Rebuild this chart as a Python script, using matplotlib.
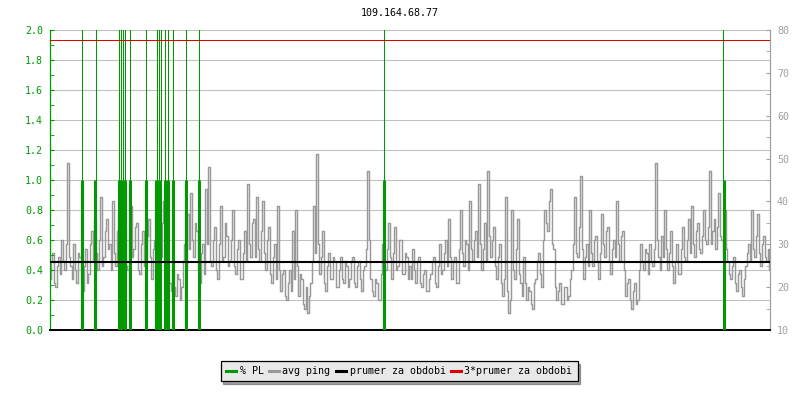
import matplotlib
matplotlib.use("Agg")
import matplotlib.pyplot as plt
import matplotlib.transforms as mtransforms
from matplotlib.ticker import MultipleLocator
import numpy as np

title = "109.164.68.77"
tick_labels = ["17:21", "19:22", "21:25", "23:26", "01:27", "03:28",
               "05:29", "07:30", "09:31", "11:33", "13:35", "15:36"]
tick_hours = [0, 2, 4, 6, 8, 10, 12, 14, 16, 18, 20, 22]
sample_step_h = 0.05  # one sample every 3 minutes, starting 17:21

ping_ms = [
    22, 26, 28, 21, 20, 25, 27, 23, 31, 26, 24, 30, 49, 27, 25, 22, 30, 24, 21, 28,
    27, 22, 19, 25, 29, 21, 23, 30, 33, 26, 36, 28, 24, 31, 41, 25, 27, 33, 36, 29,
    30, 24, 40, 28, 25, 33, 37, 26, 28, 35, 34, 25, 24, 31, 39, 27, 29, 34, 35, 24,
    23, 30, 33, 25, 26, 32, 36, 27, 22, 29, 31, 23, 38, 30, 27, 35, 40, 28, 24, 22,
    21, 19, 24, 20, 18, 23, 22, 17, 20, 26, 30, 24, 37, 29, 42, 31, 27, 35, 33, 24,
    21, 28, 30, 23, 43, 30, 48, 26, 25, 31, 34, 24, 22, 30, 39, 26, 27, 35, 32, 25,
    26, 31, 38, 25, 23, 29, 31, 22, 22, 28, 33, 26, 44, 30, 27, 35, 36, 27, 41, 29,
    26, 33, 40, 28, 24, 31, 34, 23, 21, 27, 30, 22, 39, 24, 19, 23, 24, 18, 17, 21,
    24, 19, 33, 22, 38, 25, 18, 23, 22, 16, 15, 20, 14, 18, 21, 26, 39, 28, 51, 30,
    23, 27, 33, 21, 19, 25, 28, 22, 22, 27, 26, 20, 20, 24, 27, 22, 21, 26, 25, 20,
    22, 26, 27, 21, 20, 25, 26, 22, 19, 24, 25, 29, 47, 31, 22, 19, 18, 22, 21, 17,
    17, 23, 30, 25, 24, 29, 35, 27, 22, 28, 34, 24, 25, 31, 31, 23, 23, 28, 27, 22,
    25, 22, 29, 24, 21, 26, 27, 21, 20, 23, 24, 19, 19, 22, 23, 26, 27, 21, 20, 25,
    30, 23, 24, 28, 31, 25, 36, 27, 22, 26, 27, 21, 21, 29, 38, 28, 25, 31, 30, 24,
    40, 29, 26, 31, 33, 27, 44, 30, 24, 29, 35, 26, 47, 32, 27, 31, 34, 25, 22, 27,
    30, 21, 18, 22, 41, 19, 14, 17, 38, 24, 22, 29, 36, 23, 21, 18, 27, 21, 17, 20,
    19, 16, 15, 21, 22, 26, 28, 23, 20, 31, 38, 35, 33, 40, 43, 30, 29, 20, 17, 19,
    21, 16, 16, 20, 20, 17, 18, 22, 24, 30, 41, 28, 27, 34, 46, 29, 22, 27, 30, 25,
    38, 28, 25, 31, 32, 26, 22, 28, 37, 30, 27, 33, 34, 26, 23, 29, 31, 27, 40, 30,
    26, 32, 33, 24, 18, 21, 22, 17, 15, 19, 21, 16, 17, 24, 30, 26, 24, 29, 28, 23,
    30, 26, 25, 29, 49, 31, 27, 24, 32, 27, 38, 29, 24, 28, 33, 25, 21, 26, 30, 23,
    23, 29, 34, 27, 26, 31, 36, 28, 39, 30, 27, 33, 35, 29, 28, 32, 38, 31, 30, 34,
    47, 30, 33, 36, 29, 34, 42, 32, 31, 27, 38, 29, 26, 23, 22, 25, 27, 21, 19, 23,
    24, 20, 18, 22, 25, 28, 30, 26, 38, 29, 27, 32, 37, 28, 25, 30, 32, 27, 26, 29,
    24,
]
ping_mean_ms = 25.9

# packet loss (%) events, hours after 17:21
pl_one_hours = [1.06, 1.51, 2.30, 2.38, 2.50, 2.67, 3.20, 3.53, 3.60, 3.67,
                3.83, 3.93, 4.09, 4.53, 4.96, 11.14, 22.47]
pl_one_values = [1.0] * len(pl_one_hours)
pl_high_hours = [1.06, 1.52, 2.29, 2.37, 2.42, 2.50, 2.68, 3.19, 3.56, 3.62,
                 3.69, 3.82, 3.92, 4.10, 4.52, 4.98, 11.12, 22.44]
pl_high_values = [3.0] * len(pl_high_hours)

GREEN = "#009a00"
GRAY = "#999999"
GRID = "#c0c0c0"
AXGRAY = "#a0a0a0"

plt.rcParams["font.family"] = ["DejaVu Sans Mono"]
plt.rcParams["font.size"] = 7

fig = plt.figure(figsize=(8, 4), dpi=100)
ax_ping = fig.add_axes([50 / 800, 70 / 400, 720 / 800, 300 / 400])
ax_pl = ax_ping.twinx()
ax_pl.patch.set_visible(False)

ping_t = np.arange(len(ping_ms)) * sample_step_h

ax_ping.set_xlim(0, 24)
ax_ping.set_ylim(10, 80)
ax_pl.set_ylim(0, 2.0)

# grid lines (left axis major ticks), behind the ping line
pl_major = np.round(np.arange(0, 2.01, 0.2), 1)
grid_tr = mtransforms.blended_transform_factory(ax_ping.transAxes, ax_pl.transData)
for g in pl_major:
    ax_ping.plot([0, 1], [g, g], color=GRID, lw=0.75, transform=grid_tr, zorder=1)

ax_ping.plot(ping_t, ping_ms, color=GRAY, lw=1.05, zorder=2, drawstyle="steps-mid")

# packet loss on top
ax_pl.vlines(pl_high_hours, 0, pl_high_values, color=GREEN, lw=0.75, zorder=2)
ax_pl.vlines(pl_one_hours, 0, pl_one_values, color=GREEN, lw=2.2, zorder=3)

line_tr = mtransforms.blended_transform_factory(ax_pl.transAxes, ax_ping.transData)
ax_pl.plot([0, 1], [ping_mean_ms, ping_mean_ms], color="black", lw=1.5,
           transform=line_tr, zorder=4)
ax_pl.plot([0, 1], [3 * ping_mean_ms, 3 * ping_mean_ms], color="#dd0000", lw=0.75,
           transform=line_tr, zorder=4)

# axes styling
for sp in ax_ping.spines.values():
    sp.set_visible(False)
ax_pl.spines["top"].set_visible(False)
ax_pl.spines["left"].set_color(GREEN)
ax_pl.spines["left"].set_linewidth(0.9)
ax_pl.spines["right"].set_color(AXGRAY)
ax_pl.spines["right"].set_linewidth(0.9)
ax_pl.spines["bottom"].set_color("black")
ax_pl.spines["bottom"].set_linewidth(1.4)

ax_pl.yaxis.tick_left()
ax_pl.yaxis.set_label_position("left")
ax_pl.set_yticks(pl_major)
ax_pl.set_yticklabels([f"{v:.1f}" for v in pl_major])
ax_pl.yaxis.set_minor_locator(MultipleLocator(0.1))
ax_pl.tick_params(axis="y", which="both", direction="in", colors=GREEN,
                  labelcolor=GREEN, labelsize=7.2)
ax_pl.tick_params(axis="y", which="major", length=3, pad=5)
ax_pl.tick_params(axis="y", which="minor", length=3)

ax_ping.yaxis.tick_right()
ax_ping.set_yticks(np.arange(10, 81, 10))
ax_ping.yaxis.set_minor_locator(MultipleLocator(5))
ax_ping.tick_params(axis="y", which="both", direction="in", colors=AXGRAY,
                    labelcolor=AXGRAY, labelsize=7.2, length=3, pad=5)
ax_ping.tick_params(axis="y", which="both", right=True, left=False)

ax_pl.set_xticks(tick_hours)
ax_pl.set_xticklabels(tick_labels)
ax_pl.tick_params(axis="x", direction="in", length=3, colors="black",
                  labelsize=7.2, pad=4)
ax_ping.tick_params(axis="x", bottom=False, labelbottom=False)
ax_pl.set_xlim(0, 24)

fig.text(0.5, 1 - 13 / 400, title, ha="center", va="center", fontsize=7.2)

handles = [
    plt.Line2D([], [], color=GREEN, lw=2.2),
    plt.Line2D([], [], color=GRAY, lw=2.2),
    plt.Line2D([], [], color="black", lw=2.2),
    plt.Line2D([], [], color="#dd0000", lw=2.2),
]
labels = ["% PL", "avg ping", "prumer za obdobi", "3*prumer za obdobi"]
leg = fig.legend(handles, labels, loc="center", bbox_to_anchor=(399 / 800, 1 - 371 / 400),
                 ncol=4, fontsize=7.2, frameon=True, fancybox=False, shadow=True,
                 handlelength=1.0, handletextpad=0.4, columnspacing=0.5,
                 borderpad=0.5, borderaxespad=0)
leg.get_frame().set_facecolor("#e8e8e8")
leg.get_frame().set_edgecolor("black")
leg.get_frame().set_alpha(1)
leg.get_frame().set_linewidth(0.9)

fig.savefig("out.png", dpi=100, facecolor="white")
